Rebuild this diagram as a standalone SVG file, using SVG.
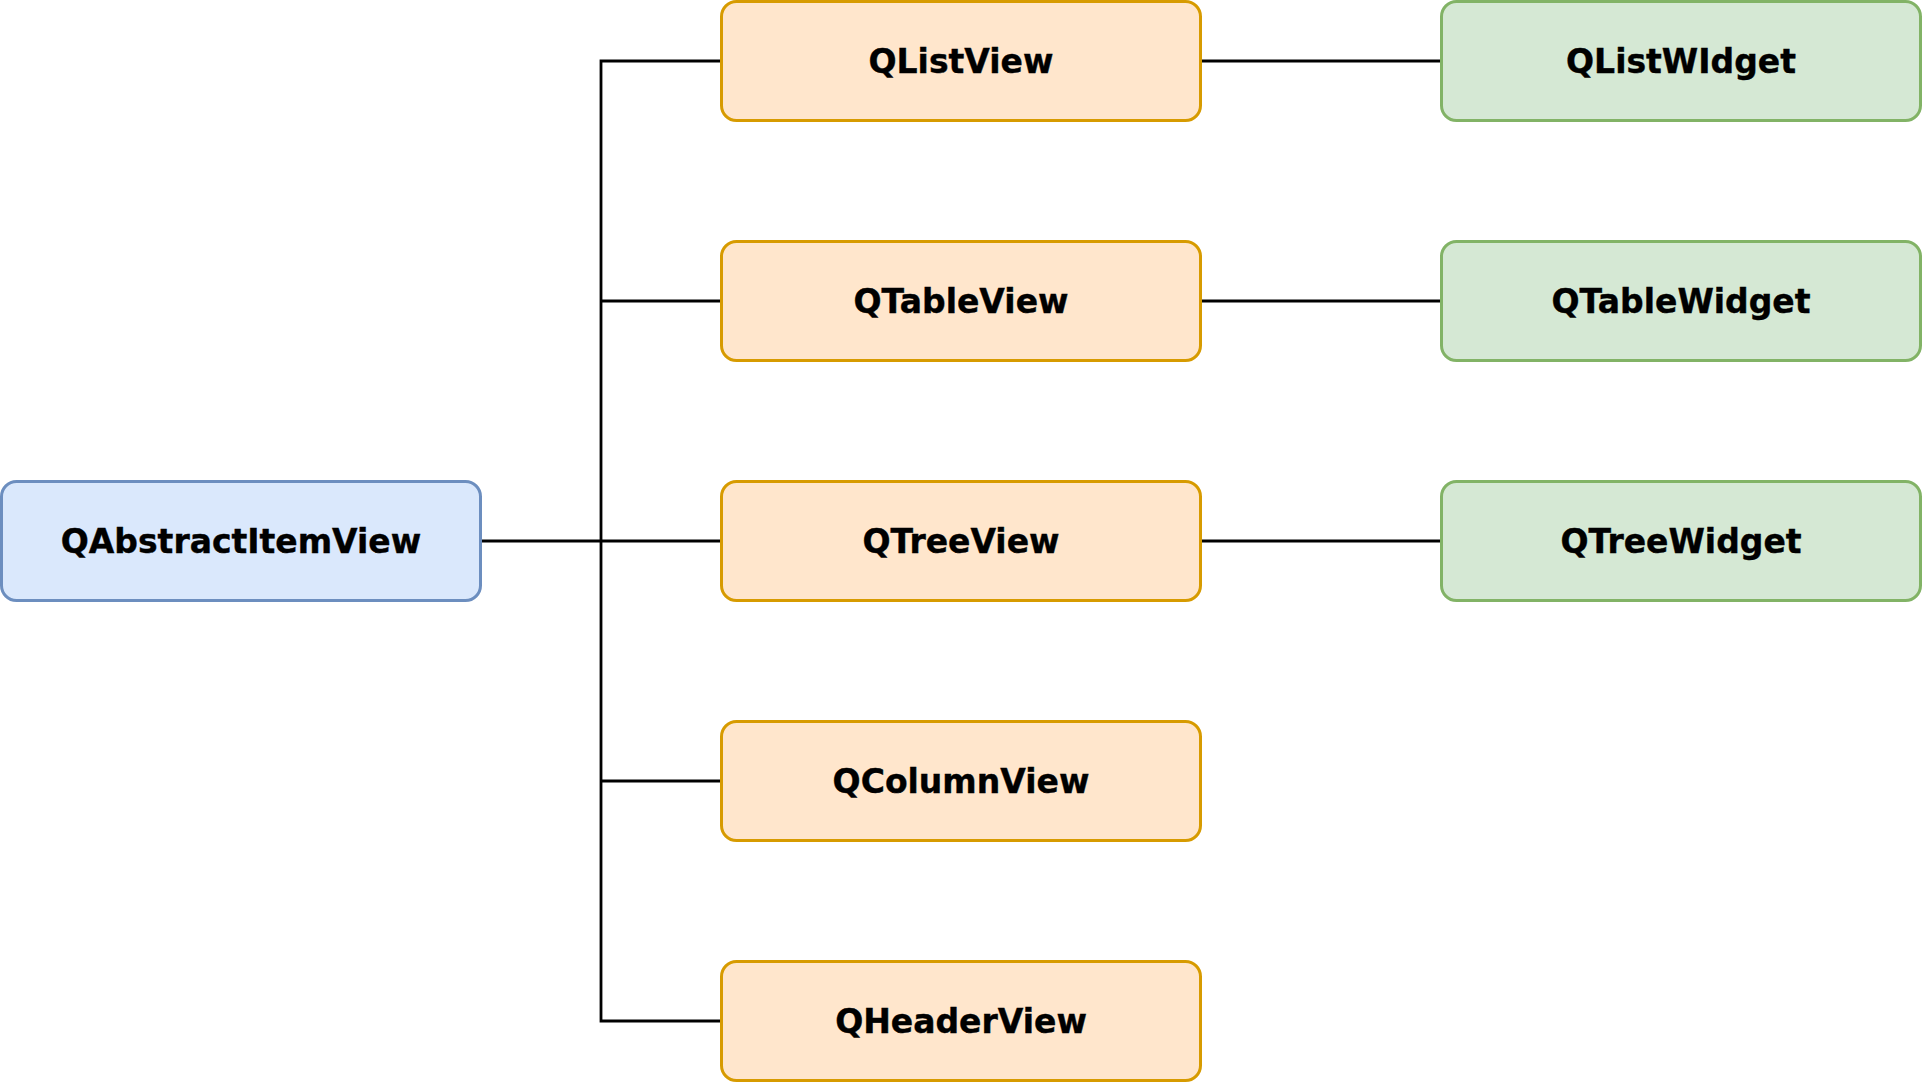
<svg xmlns="http://www.w3.org/2000/svg" width="1923" height="1083" viewBox="0 0 1923 1083">
<style>
  .box { stroke-width: 3; }
  .blue { fill: #dae8fc; stroke: #6c8ebf; }
  .orange { fill: #ffe6cc; stroke: #d79b00; }
  .green { fill: #d5e8d4; stroke: #82b366; }
  .lbl { font-family: "DejaVu Sans", Verdana, sans-serif; font-weight: bold; font-size: 33px; fill: #000; text-anchor: middle; stroke: #000; stroke-width: 0.4; }
  .edge { fill: none; stroke: #000; stroke-width: 2.8; stroke-linejoin: miter; }
</style>
<rect width="1923" height="1083" fill="#ffffff"/>
<g id="connectors">
  <path class="edge" d="M481 541 H601"/>
  <path class="edge" d="M721 61 H601 V1021 H721"/>
  <path class="edge" d="M601 301 H721"/>
  <path class="edge" d="M601 541 H721"/>
  <path class="edge" d="M601 781 H721"/>
  <path class="edge" d="M1201 61 H1441"/>
  <path class="edge" d="M1201 301 H1441"/>
  <path class="edge" d="M1201 541 H1441"/>
</g>
<g id="QAbstractItemView">
  <rect class="box blue" x="1.5" y="481.5" width="479" height="119" rx="15"/>
  <text class="lbl" x="241" y="553">QAbstractItemView</text>
</g>
<g id="QListView">
  <rect class="box orange" x="721.5" y="1.5" width="479" height="119" rx="15"/>
  <text class="lbl" x="961" y="73">QListView</text>
</g>
<g id="QTableView">
  <rect class="box orange" x="721.5" y="241.5" width="479" height="119" rx="15"/>
  <text class="lbl" x="961" y="313">QTableView</text>
</g>
<g id="QTreeView">
  <rect class="box orange" x="721.5" y="481.5" width="479" height="119" rx="15"/>
  <text class="lbl" x="961" y="553">QTreeView</text>
</g>
<g id="QColumnView">
  <rect class="box orange" x="721.5" y="721.5" width="479" height="119" rx="15"/>
  <text class="lbl" x="961" y="793">QColumnView</text>
</g>
<g id="QHeaderView">
  <rect class="box orange" x="721.5" y="961.5" width="479" height="119" rx="15"/>
  <text class="lbl" x="961" y="1033">QHeaderView</text>
</g>
<g id="QListWIdget">
  <rect class="box green" x="1441.5" y="1.5" width="479" height="119" rx="15"/>
  <text class="lbl" x="1681" y="73">QListWIdget</text>
</g>
<g id="QTableWidget">
  <rect class="box green" x="1441.5" y="241.5" width="479" height="119" rx="15"/>
  <text class="lbl" x="1681" y="313">QTableWidget</text>
</g>
<g id="QTreeWidget">
  <rect class="box green" x="1441.5" y="481.5" width="479" height="119" rx="15"/>
  <text class="lbl" x="1681" y="553">QTreeWidget</text>
</g>
</svg>
